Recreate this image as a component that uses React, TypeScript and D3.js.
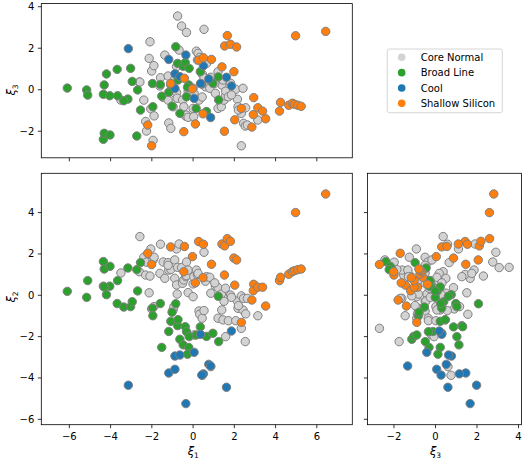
import React from "react";
import * as d3 from "d3";

// classes, in legend order
const classNames = ["Core Normal", "Broad Line", "Cool", "Shallow Silicon"];
const classColors = ["#d3d3d3", "#2ca02c", "#1f77b4", "#ff7f0e"];

// each row: [xi1, xi2, xi3]
const coreNormal = [
  [-3.5, 1.08, -0.5], [-2.61, 1.14, 0.37], [-2.58, 2.84, 0.37], [-2.39, 1.84, -0.5],
  [-2.3, 0.98, -1.53], [-2.26, 1.6, -1.99], [-2.13, 0.12, 1.51], [-2.09, 0.93, 2.31],
  [-2.05, 2.24, -0.92], [-2.01, -0.66, 0.9], [-1.94, 1.71, -2.44], [-1.9, -0.55, 1.16],
  [-1.89, 1.84, -1.26], [-1.61, 1.06, 0.18], [-1.58, 2.47, 0.58], [-1.45, 1.61, -0.37],
  [-1.37, 0.82, 1.67], [-1.21, 1.58, 0.66], [-1.18, 1.22, -1.6], [-1.08, 1.25, -1.86],
  [-1.21, 1.45, -0.5], [-0.97, -0.71, -0.82], [-0.93, -0.55, 0.02], [-0.89, 1.71, -0.17],
  [-0.89, 0.82, 0.5], [-0.8, 2.24, 1.11], [-0.8, 0.5, -0.14], [-0.77, 0.06, -0.41],
  [-0.75, 1.35, 3.55], [-0.68, 2.48, 1.91], [-0.56, 1.34, 3.07], [-0.51, 0.58, -0.5],
  [-0.45, 0.74, -0.82], [-0.35, 0.9, -1.28], [-0.32, 1.61, 2.76], [-0.32, 0.95, -1.22],
  [-0.24, 1.22, -1.33], [-0.24, 0.13, -0.1], [0.0, 0.55, 0.07], [0.0, -0.07, -0.9],
  [0.03, 0.9, -1.3], [0.05, -1.92, -0.18], [0.16, 1.22, 1.86], [0.21, 1.01, 1.43],
  [0.24, 1.06, 1.75], [0.29, -0.76, -0.5], [0.32, -0.92, 1.56], [0.44, -1.11, -0.35],
  [0.45, -3.87, 0.75], [0.53, -0.74, 0.57], [0.53, 2.08, 2.91], [0.6, 0.68, 0.14],
  [0.65, 0.9, 1.27], [0.81, 0.87, 0.07], [0.86, 0.1, 0.51], [0.86, -3.45, 0.6],
  [1.08, 0.45, -0.17], [1.21, 0.37, 0.87], [1.21, -1.11, -0.9], [1.37, 0.06, -0.82],
  [1.39, -0.71, 0.23], [1.45, -1.19, 0.47], [1.5, -0.29, -0.5], [1.57, 0.34, -0.3],
  [1.58, -2.0, -0.07], [1.71, -1.23, -0.34], [1.82, 0.01, 0.31], [2.07, -1.23, 0.02],
  [2.15, -0.28, -0.46], [2.18, -0.63, -0.82], [2.34, -0.03, -1.14], [2.34, -1.6, -2.7],
  [2.42, -0.71, 0.07], [2.45, -0.15, -1.62], [2.53, -2.24, -1.75], [2.55, -0.9, -0.87],
  [2.63, -0.15, -1.7], [3.14, -0.99, -1.46], [2.2, -0.5, -0.98], [1.86, -0.1, -0.25],
  [1.05, 0.6, 0.31],
];

const broadLine = [
  [-6.1, 0.19, 0.08], [-5.16, -0.1, -0.01], [-5.11, 0.71, -0.26], [-4.35, 1.63, -2.39],
  [-4.31, 1.27, -2.1], [-4.03, 1.4, -2.18], [-4.35, 0.44, -0.22], [-4.04, 0.44, -0.29],
  [-4.2, 0.03, 0.76], [-4.31, 0.4, 0.23], [-3.66, 0.71, -0.29], [-3.68, -0.4, 0.98],
  [-3.16, 1.32, -0.45], [-3.36, -0.57, -0.53], [-3.03, -0.55, 1.03], [-2.95, -0.31, 0.4],
  [-2.73, 1.24, -2.23], [-2.69, 0.21, -0.01], [-2.55, 1.58, -0.98], [-1.97, -0.62, 0.3],
  [-1.95, -0.99, -0.82], [-1.59, -0.4, 0.25], [-1.52, -2.52, -0.31], [-1.18, -1.75, -0.12],
  [-1.08, -1.26, 0.23], [-1.02, -0.82, -0.79], [-0.84, -0.41, 2.07], [-0.75, -1.47, 1.27],
  [-0.73, -1.18, 0.47], [-0.64, -2.13, -1.14], [-0.48, -2.4, 1.13], [-0.38, -1.52, 1.31],
  [-0.32, -1.76, -0.34], [-0.19, -2.0, 1.03], [-0.21, -2.52, 0.23], [-0.27, -2.85, 0.12],
  [0.35, -1.53, 0.87], [0.65, -1.99, -1.05], [0.96, -1.84, 0.31], [1.24, -2.24, -0.49],
  [1.22, -0.05, 0.62], [0.15, -1.92, -0.9],
];

const cool = [
  [-3.14, -4.35, 1.98], [-0.35, -5.24, 1.67], [1.62, -4.45, 0.6], [-1.18, -3.76, 1.46],
  [-0.88, -3.58, 0.06], [0.5, -3.8, 1.15], [0.42, -3.86, 0.27], [0.76, -3.34, 0.52],
  [0.85, -3.42, -1.34], [-0.88, -2.94, 0.77], [-0.64, -2.89, 0.63], [0.05, -2.76, -0.42],
  [0.36, -1.89, 0.3], [1.86, -1.73, 0.18],
];

const shallowSilicon = [
  [6.43, 4.9, 2.81], [4.97, 4.0, 2.6], [0.27, 2.6, 1.43], [0.5, 2.47, 1.54],
  [1.4, 2.48, 1.1], [1.53, 2.39, 2.11], [1.66, 2.74, 2.61], [1.81, 2.61, 2.19],
  [1.98, 1.8, 0.87], [2.11, 1.71, 2.06], [0.89, 1.5, 1.46], [1.52, 0.98, -2.0],
  [2.02, 0.49, -1.45], [2.94, 0.53, -0.38], [2.92, 0.22, -1.2], [3.14, 0.39, -0.87],
  [3.37, 0.39, -1.03], [2.85, -0.23, -1.8], [3.52, -0.52, -1.4], [4.19, 0.71, -1.03],
  [4.24, 0.87, -0.61], [4.64, 1.02, -0.75], [4.81, 1.14, -0.65], [4.92, 1.19, -0.7],
  [5.08, 1.24, -0.75], [5.24, 1.27, -0.8], [-0.03, 1.87, 0.04], [-1.09, 2.34, 0.3],
  [-0.42, 2.36, 0.55], [-0.45, 1.14, -2.02], [-2.2, 2.03, -1.7], [-2.01, 1.49, -2.7],
  [0.48, 0.85, -1.16], [2.34, -1.31, -0.9], [0.11, 0.6, -1.65],
];

const xi1Ticks = [-6, -4, -2, 0, 2, 4, 6];
const xi2Ticks = [-6, -4, -2, 0, 2, 4];
const xi3Ticks = [-2, 0, 2, 4];

const groups = [coreNormal, broadLine, cool, shallowSilicon];

const W = 525;
const H = 461;
const fontFamily = "DejaVu Sans, sans-serif";
const fmt = d3.format("d");

// shared scales
const sx1 = d3.scaleLinear().domain([-7.36, 7.72]).range([41.3, 352.3]);
const sy2 = d3.scaleLinear().domain([-6.26, 5.9]).range([424.7, 173.3]);
const sy3 = d3.scaleLinear().domain([-3.28, 4.15]).range([157.8, 3.6]);
const sx3 = d3.scaleLinear().domain([-3.28, 4.15]).range([367.4, 521.6]);

type PanelProps = {
  xs: d3.ScaleLinear<number, number>;
  ys: d3.ScaleLinear<number, number>;
  xi: number;
  yi: number;
  xTicks: number[];
  yTicks: number[];
  xLabels: boolean;
  yLabels: boolean;
};

const Panel = ({ xs, ys, xi, yi, xTicks, yTicks, xLabels, yLabels }: PanelProps) => {
  const [x0, x1] = xs.range();
  const [y0, y1] = ys.range(); // y0 bottom, y1 top
  return (
    <g>
      {groups.map((pts, gi) => (
        <g key={gi}>
          {pts.map((p, i) => (
            <circle
              key={i}
              cx={xs(p[xi])}
              cy={ys(p[yi])}
              r={4.2}
              fill={classColors[gi]}
              stroke="#808080"
              strokeWidth={1}
            />
          ))}
        </g>
      ))}
      <rect x={x0} y={y1} width={x1 - x0} height={y0 - y1} fill="none" stroke="#000" strokeWidth={0.8} />
      {xTicks.map((t) => (
        <g key={"x" + t}>
          <line x1={xs(t)} x2={xs(t)} y1={y0} y2={y0 + 3.5} stroke="#000" strokeWidth={0.8} />
          {xLabels && (
            <text x={xs(t)} y={y0 + 15.5} textAnchor="middle" fontSize={10} fontFamily={fontFamily} fill="#000">
              {fmt(t)}
            </text>
          )}
        </g>
      ))}
      {yTicks.map((t) => (
        <g key={"y" + t}>
          <line x1={x0 - 3.5} x2={x0} y1={ys(t)} y2={ys(t)} stroke="#000" strokeWidth={0.8} />
          {yLabels && (
            <text x={x0 - 7} y={ys(t)} dy="0.35em" textAnchor="end" fontSize={10} fontFamily={fontFamily} fill="#000">
              {fmt(t)}
            </text>
          )}
        </g>
      ))}
    </g>
  );
};

const XiLabel = ({ n }: { n: number }) => (
  <>
    <tspan fontStyle="italic">ξ</tspan>
    <tspan fontSize={7.5} dy={2.5}>{n}</tspan>
  </>
);

const Legend = () => {
  const lx = 387.3;
  const ly = 49;
  return (
    <g>
      <rect x={lx} y={ly} width={115} height={63.7} rx={2} fill="#fff" fillOpacity={0.8} stroke="#cccccc" strokeWidth={0.8} />
      {classNames.map((name, i) => (
        <g key={name}>
          <circle cx={401.7} cy={57.3 + i * 15.35} r={3.8} fill={classColors[i]} />
          <text x={420.7} y={57.3 + i * 15.35} dy="0.35em" fontSize={10} fontFamily={fontFamily} fill="#000">
            {name}
          </text>
        </g>
      ))}
    </g>
  );
};

export default function App() {
  return (
    <div style={{ position: "absolute", left: 0, top: 0 }}>
      <svg width={W} height={H} viewBox={`0 0 ${W} ${H}`} style={{ display: "block", background: "#fff" }}>
        {/* top: xi1 vs xi3 */}
        <Panel xs={sx1} ys={sy3} xi={0} yi={2} xTicks={xi1Ticks} yTicks={xi3Ticks} xLabels={false} yLabels={true} />
        {/* bottom left: xi1 vs xi2 */}
        <Panel xs={sx1} ys={sy2} xi={0} yi={1} xTicks={xi1Ticks} yTicks={xi2Ticks} xLabels={true} yLabels={true} />
        {/* bottom right: xi3 vs xi2 */}
        <Panel xs={sx3} ys={sy2} xi={2} yi={1} xTicks={xi3Ticks} yTicks={xi2Ticks} xLabels={true} yLabels={false} />

        <text x={193.3} y={455} textAnchor="middle" fontSize={11.5} fontFamily={fontFamily}>
          <XiLabel n={1} />
        </text>
        <text x={435.5} y={455} textAnchor="middle" fontSize={11.5} fontFamily={fontFamily}>
          <XiLabel n={3} />
        </text>
        <text transform="translate(15,90) rotate(-90)" textAnchor="middle" fontSize={11.5} fontFamily={fontFamily}>
          <XiLabel n={3} />
        </text>
        <text transform="translate(15,297) rotate(-90)" textAnchor="middle" fontSize={11.5} fontFamily={fontFamily}>
          <XiLabel n={2} />
        </text>
        <Legend />
      </svg>
    </div>
  );
}
